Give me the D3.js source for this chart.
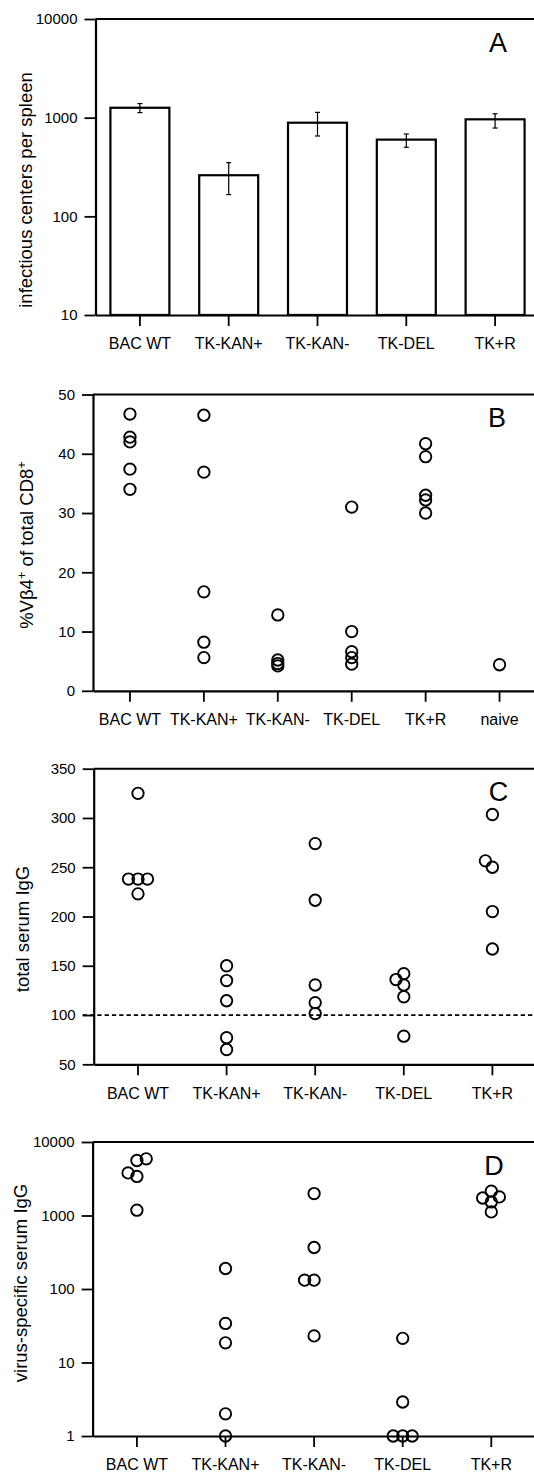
<!DOCTYPE html>
<html>
<head>
<meta charset="utf-8">
<script src="https://cdn.jsdelivr.net/npm/d3@7"></script>
<style>
    html, body { margin: 0; padding: 0; background: #fff; }
    text { font-family: "Liberation Sans", Arial, Helvetica, sans-serif; fill: #000; }
</style>
</head>
<body>
<div id="chart"></div>
<script>
// ---- data ----
const strains = ["BAC WT", "TK-KAN+", "TK-KAN-", "TK-DEL", "TK+R"];
const strainsWithNaive = ["BAC WT", "TK-KAN+", "TK-KAN-", "TK-DEL", "TK+R", "naive"];

// A: infectious centers per spleen (mean, error bar low / high)
const icMean = [1260, 261, 889, 599, 962];
const icLow = [1125, 166, 652, 501, 785];
const icHigh = [1390, 350, 1132, 683, 1096];
const icTicks = [10, 100, 1000, 10000];

// B: %Vb4+ of total CD8+ per mouse
const vb4Percent = [
    [46.7, 42.8, 42.0, 37.4, 34.0],
    [46.5, 36.9, 16.7, 8.2, 5.6],
    [12.8, 5.2, 4.6, 4.2],
    [31.0, 10.0, 6.6, 5.6, 4.5],
    [41.7, 39.5, 33.0, 32.2, 30.0],
    [4.4]
];
const vb4Ticks = [0, 10, 20, 30, 40, 50];

// C: total serum IgG per mouse
const totalIgG = [
    [325, 238, 238, 238, 223],
    [150, 135, 114.5, 77, 65],
    [274, 216.5, 130.5, 112.5, 101.5],
    [142, 136, 130.5, 118.5, 78.5],
    [303.5, 256.5, 250, 205, 167]
];
const totalIgGTicks = [50, 100, 150, 200, 250, 300, 350];
const totalIgGRef = 100;

// D: virus-specific serum IgG per mouse
const virusIgG = [
    [5900, 5600, 3800, 3400, 1180],
    [190, 34, 18.5, 2.0, 1.0],
    [1990, 367, 132, 132, 23],
    [21.3, 2.9, 1.0, 1.0, 1.0],
    [2140, 1790, 1730, 1530, 1120]
];
const virusIgGTicks = [1, 10, 100, 1000, 10000];

// ---- layout ----
const width = 534, height = 1474;
const tickLen = 11;
const dotR = 5.7;

const svg = d3.select("#chart").append("svg")
    .attr("width", width)
    .attr("height", height);

svg.append("rect").attr("width", width).attr("height", height).attr("fill", "#fff");

// Each panel: left axis x, plot width, top/bottom y, letter placement
function frame(cfg, yScale, yTicks, xScale) {
    let g = svg.append("g");

    // top border line
    g.append("line")
        .attr("x1", cfg.left).attr("x2", cfg.left + cfg.width)
        .attr("y1", cfg.top).attr("y2", cfg.top)
        .attr("stroke", "#000").attr("stroke-width", 2);

    let yAxis = g.append("g")
        .attr("transform", "translate(" + cfg.left + ",0)")
        .call(d3.axisLeft(yScale)
            .tickValues(yTicks)
            .tickFormat(d3.format("d"))
            .tickSize(tickLen)
            .tickSizeOuter(0)
            .tickPadding(7));

    let xAxis = g.append("g")
        .attr("transform", "translate(0," + cfg.bottom + ")")
        .call(d3.axisBottom(xScale)
            .tickSize(tickLen)
            .tickSizeOuter(0)
            .tickPadding(12));

    [yAxis, xAxis].forEach(ax => {
        ax.select(".domain").attr("stroke-width", 2.2);
        ax.selectAll(".tick line").attr("stroke-width", 1.8);
    });
    yAxis.selectAll("text").style("font-size", "15px");
    xAxis.selectAll("text").style("font-size", "16px");

    // panel letter
    g.append("text")
        .attr("x", cfg.letterX)
        .attr("y", cfg.top + 32.5)
        .attr("text-anchor", "middle")
        .style("font-size", "27px")
        .text(cfg.letter);

    return g;
}

function yTitle(g, x, y, parts) {
    let t = g.append("text")
        .attr("transform", "translate(" + x + "," + y + ") rotate(-90)")
        .attr("text-anchor", "middle")
        .style("font-size", "18.5px");
    let shift = 0;
    parts.forEach(p => {
        let target = p.sup ? -7 : 0;
        let span = t.append("tspan").attr("dy", target - shift).text(p.text);
        if (p.sup) span.style("font-size", "13px");
        shift = target;
    });
}

// Lays points of one group side by side when they collide, bottom point first
function dodge(values, y, minDist) {
    let pts = values.map(v => ({v: v, y: y(v), x: 0})).sort((a, b) => b.y - a.y);
    let placed = [];
    let lastSide = 1;
    pts.forEach(p => {
        if (minDist > 0) {
            let near = placed.filter(q => Math.abs(q.y - p.y) < minDist);
            let cands = [0];
            near.forEach(q => {
                let dx = Math.sqrt(minDist * minDist - (q.y - p.y) * (q.y - p.y));
                cands.push(q.x - dx, q.x + dx);
            });
            let ok = cands.filter(c => near.every(q => Math.hypot(q.x - c, q.y - p.y) >= minDist - 1e-6));
            ok.sort((a, b) => Math.abs(a) - Math.abs(b) || (a - b) * lastSide);
            p.x = ok[0];
            if (p.x !== 0) lastSide = Math.sign(p.x);
        }
        placed.push(p);
    });
    return pts;
}

function dots(g, groups, cats, xScale, yScale, minDist) {
    let flat = [];
    groups.forEach((vals, i) => {
        let cx = xScale(cats[i]) + xScale.bandwidth() / 2;
        dodge(vals, yScale, minDist).forEach(p => flat.push({cx: cx + p.x, cy: p.y}));
    });
    g.selectAll("circle.dot")
        .data(flat)
        .join("circle")
        .attr("class", "dot")
        .attr("cx", d => d.cx)
        .attr("cy", d => d.cy)
        .attr("r", dotR)
        .attr("fill", "none")
        .attr("stroke", "#000")
        .attr("stroke-width", 1.9);
}

// ---- A: bars with error bars ----
{
    let cfg = {left: 95.5, width: 444, top: 19, bottom: 315, letter: "A", letterX: 498};
    let x = d3.scaleBand().domain(strains).range([cfg.left, cfg.left + cfg.width])
        .paddingInner(0.336).paddingOuter(0.168);
    let y = d3.scaleLog().domain([10, 10000]).range([cfg.bottom, cfg.top]);

    let g = svg.append("g");
    let rows = strains.map((s, i) => ({s: s, mean: icMean[i], lo: icLow[i], hi: icHigh[i]}));

    g.selectAll("rect.bar")
        .data(rows)
        .join("rect")
        .attr("class", "bar")
        .attr("x", d => x(d.s))
        .attr("width", x.bandwidth())
        .attr("y", d => y(d.mean))
        .attr("height", d => y(10) - y(d.mean))
        .attr("fill", "#fff")
        .attr("stroke", "#000")
        .attr("stroke-width", 2.2);

    let err = g.selectAll("g.err")
        .data(rows)
        .join("g")
        .attr("class", "err")
        .attr("transform", d => "translate(" + (x(d.s) + x.bandwidth() / 2) + ",0)")
        .attr("stroke", "#000")
        .attr("stroke-width", 1.2);
    err.append("line").attr("y1", d => y(d.hi)).attr("y2", d => y(d.lo));
    err.append("line").attr("x1", -2.5).attr("x2", 2.5).attr("y1", d => y(d.hi)).attr("y2", d => y(d.hi));
    err.append("line").attr("x1", -2.5).attr("x2", 2.5).attr("y1", d => y(d.lo)).attr("y2", d => y(d.lo));

    let f = frame(cfg, y, icTicks, x);
    yTitle(f, 32, 190, [{text: "infectious centers per spleen"}]);
}

// ---- B: %Vb4+ scatter ----
{
    let cfg = {left: 93, width: 443.5, top: 394.5, bottom: 690.8, letter: "B", letterX: 497};
    let x = d3.scaleBand().domain(strainsWithNaive).range([cfg.left, cfg.left + cfg.width]);
    let y = d3.scaleLinear().domain([0, 50]).range([cfg.bottom, cfg.top]);
    let f = frame(cfg, y, vb4Ticks, x);
    dots(f, vb4Percent, strainsWithNaive, x, y, 0);
    yTitle(f, 33, 545, [
        {text: "%V\u03b24"}, {text: "+", sup: true},
        {text: " of total CD8"}, {text: "+", sup: true}
    ]);
}

// ---- C: total serum IgG ----
{
    let cfg = {left: 93.7, width: 443, top: 768.7, bottom: 1064.3, letter: "C", letterX: 498.5};
    let x = d3.scaleBand().domain(strains).range([cfg.left, cfg.left + cfg.width]);
    let y = d3.scaleLinear().domain([50, 350]).range([cfg.bottom, cfg.top]);
    let f = frame(cfg, y, totalIgGTicks, x);

    f.append("line")
        .attr("x1", cfg.left - tickLen).attr("x2", cfg.left + cfg.width)
        .attr("y1", y(totalIgGRef)).attr("y2", y(totalIgGRef))
        .attr("stroke", "#000")
        .attr("stroke-width", 1.8)
        .attr("stroke-dasharray", "4.3,3");

    dots(f, totalIgG, strains, x, y, 9.5);
    yTitle(f, 29, 929, [{text: "total serum IgG"}]);
}

// ---- D: virus-specific serum IgG ----
{
    let cfg = {left: 92.6, width: 443, top: 1142, bottom: 1436, letter: "D", letterX: 494};
    let x = d3.scaleBand().domain(strains).range([cfg.left, cfg.left + cfg.width]);
    let y = d3.scaleLog().domain([1, 10000]).range([cfg.bottom, cfg.top]);
    let f = frame(cfg, y, virusIgGTicks, x);
    dots(f, virusIgG, strains, x, y, 9.5);
    yTitle(f, 27, 1283, [{text: "virus-specific serum IgG"}]);
}
</script>
</body>
</html>
